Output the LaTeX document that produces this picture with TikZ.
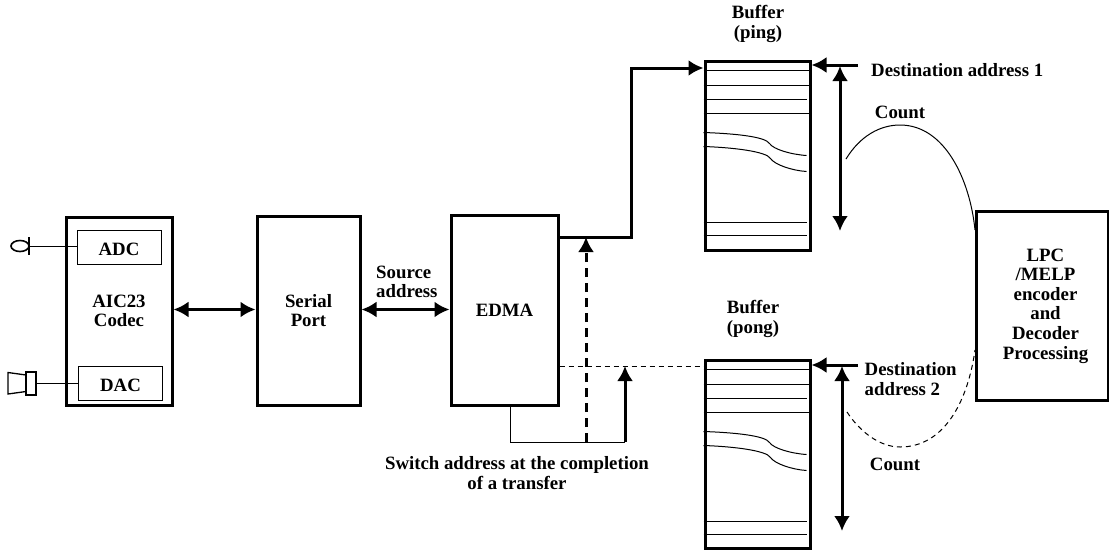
\documentclass[tikz,border=0pt]{standalone}
\usepackage{fontspec}
\setmainfont{Liberation Serif}
\usetikzlibrary{arrows.meta,calc}

\begin{document}
\begin{tikzpicture}[x=1pt, y=-1pt,
			>={Latex[length=15pt,width=16pt]},
			block/.style={draw, line width=3pt, inner sep=0pt, align=center},
			small block/.style={draw, line width=1pt, inner sep=0pt, text height=16pt, text depth=0pt},
			label/.style={inner sep=0pt, align=center},
			bus/.style={line width=3pt},
			thin line/.style={line width=1pt},
			font=\fontsize{18.8}{19.6}\selectfont\bfseries]
			\useasboundingbox (0,0) rectangle (1109,550);
			% Bloecke
			\node[block, minimum width=106pt, minimum height=188pt] (aic) at (119,311) {AIC23\\Codec};
			\node[small block, minimum width=84pt, minimum height=34pt] (adc) at (119,247) {ADC};
			\node[small block, minimum width=84pt, minimum height=34pt] (dac) at (120.5,383) {DAC};
			\node[block, minimum width=103pt, minimum height=189pt] (serial) at (308.5,310.5) {Serial\\Port};
			\node[block, minimum width=107pt, minimum height=190pt] (edma) at (504.5,310) {EDMA};
			\node[block, minimum width=105pt, minimum height=189pt] (pingbuf) at (757.5,155.5) {};
			\node[block, minimum width=105pt, minimum height=188pt] (pongbuf) at (757.5,454) {};
			\node[block, minimum width=132pt, minimum height=189pt] (lpc) at (1042,305.5) {};
			% Beschriftung
			\node[label] (lpctext) at (1045.5,306) {LPC\\/MELP\\encoder\\and\\Decoder\\Processing};
			\node[label] (pinglabel) at (758,24) {Buffer\\(ping)};
			\node[label] (ponglabel) at (753,319) {Buffer\\(pong)};
			\node[label, anchor=west] (dest1) at (871,70) {Destination address 1};
			\node[label, anchor=west, align=left] (dest2) at (864.5,379) {Destination\\address 2};
			\node[label] (count1) at (900,112) {Count};
			\node[label] (count2) at (895,464) {Count};
			\node[label, anchor=west, align=left] (source) at (376,282) {Source\\address};
			\node[label] (switch) at (517,473) {Switch address at the completion\\of a transfer};
			% Zeilen in den Puffern
			\foreach \buf in {pingbuf,pongbuf} {
				\begin{scope}[shift={(\buf.north west)}, thin line]
					\foreach \y in {11,26,54} \draw (0,\y) -- (105,\y);
					\foreach \y in {40,163,176} \draw (0,\y) -- (103,\y);
					\draw (0,73) .. controls (30,74) and (62,77) .. (66,84) .. controls (70,90) and (88,95) .. (103,96);
					\draw (0,87) .. controls (30,88) and (63,92) .. (67,99) .. controls (71,105) and (88,111) .. (103,112);
				\end{scope}
			}
			% Mikrofon und Lautsprecher
			\coordinate (mic) at (29,246);
			\coordinate (spk) at (36,383);
			\draw[line width=1.6pt] (20,246) ellipse [x radius=9, y radius=5.5];
			\draw[line width=1.3pt] (29,237) -- (29,255);
			\draw[thin line] (mic) -- (mic -| adc.west);
			\draw[line width=1.3pt] (26,375) -- (8,372.5) -- (8,394) -- (26,391.5);
			\draw[line width=1.3pt] (26,372) rectangle (spk |- 0,395);
			\draw[thin line] (spk) -- (dac.west);
			% Verbindungen
			\coordinate (busline) at (300,309.5);
			\coordinate (pingturn) at (631,237);
			\coordinate (pinghit) at (586,237);
			\coordinate (pongend) at (625,366);
			\coordinate (switchleft) at (510,442);
			\draw[<->, bus] (busline -| aic.east) -- (busline -| serial.west);
			\draw[<->, bus] (busline -| serial.east) -- (busline -| edma.west);
			\draw[->, bus] (edma.east |- pingturn) -- (pingturn) |- (pingbuf.west |- 0,68);
			\draw[thin line, dash pattern=on 5pt off 4pt] (edma.east |- pongend) -- (pongend -| pongbuf.west);
			\draw[thin line] (switchleft |- edma.south) -- (switchleft) -- (pongend |- switchleft);
			\draw[->, bus] (pongend |- switchleft) -- (pongend);
			\draw[->, bus, dash pattern=on 9pt off 6pt] (pinghit |- switchleft) -- (pinghit);
			% Adressen und Count
			\draw[->, bus] (858,65) -- (pingbuf.east |- 0,65);
			\draw[->, bus] (858,365) -- (pongbuf.east |- 0,365);
			\draw[<->, bus] (840,66) -- (840,231);
			\draw[<->, bus] (842,366) -- (842,531);
			\draw[thin line] (846,159) .. controls (860,136) and (880,125) .. (900,125) .. controls (945,125) and (970,180) .. (975,230);
			\draw[thin line, dash pattern=on 5pt off 4pt] (847,412) .. controls (860,432) and (880,447) .. (900,447) .. controls (945,447) and (968,400) .. (975,350);
		\end{tikzpicture}
\end{document}
